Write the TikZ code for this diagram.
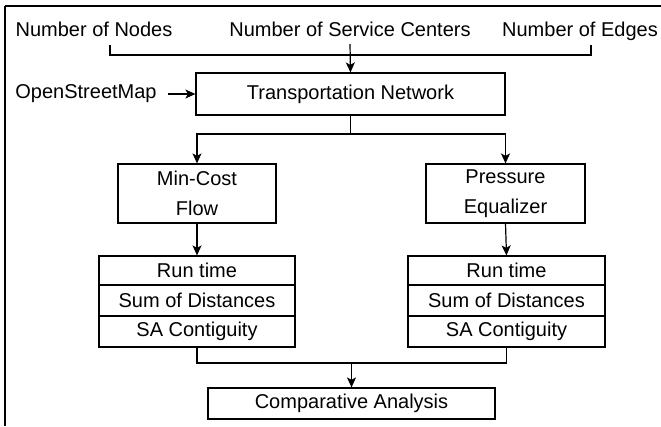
\documentclass[tikz,border=0pt]{standalone}
\usepackage{fontspec}
\setmainfont{Liberation Sans}
\usetikzlibrary{arrows.meta}
\begin{document}
\begin{tikzpicture}[x=1pt,y=-1pt,
  every node/.style={font=\fontsize{20}{30}\selectfont, inner sep=0pt},
  box/.style={draw, line width=1.2pt, minimum width=#1, align=center},
  label/.style={anchor=base},
  wire/.style={line width=1.2pt},
  arr/.style={line width=1.2pt, -{Stealth[length=10pt,width=9pt,inset=2.5pt]}},
  frame/.style={line width=1.8pt}]
\useasboundingbox (0,0) rectangle (661,426);

% outer frame (top and left edges)
\draw[frame] (5,6) -- (661,6);
\draw[frame] (5,6) -- (5,426);

% inputs
\node[label] (nodes) at (94,36) {Number of Nodes};
\node[label] (centers) at (350,36) {Number of Service Centers};
\node[label] (edges) at (580,36) {Number of Edges};
\coordinate (bl) at (110,45);
\coordinate (bm) at (350,44);
\coordinate (br) at (591,45);

% transportation network
\node[box=309pt, minimum height=42pt] (tn) at (350.5,94) {Transportation Network};
\node (osm) at (86,94) {OpenStreetMap};
\coordinate (osmend) at (168,94);

\draw[wire] (bl) -- (110,55) -- (591,55) -- (br);
\draw[arr] (bm) -- (tn.north);
\draw[arr] (osmend) -- (tn.west);

% algorithms
\node[box=158pt, minimum height=59pt] (mcf) at (197,193.5) {Min-Cost\\Flow};
\node[box=159pt, minimum height=59pt] (peq) at (505.5,193.5) {Pressure\\Equalizer};
\coordinate (split) at (350.5,134);
\draw[wire] (tn.south) -- (split);
\draw[arr] (split) -| (mcf.north);
\draw[arr] (split) -| (peq.north);

% metric stacks
\node[box=196pt, minimum height=29pt] (rtL) at (197,270.5) {Run time};
\node[box=196pt, minimum height=31pt] (sdL) at (197,300.5) {Sum of Distances};
\node[box=196pt, minimum height=31pt] (scL) at (197,331.5) {SA Contiguity};
\node[box=197pt, minimum height=29pt] (rtR) at (506.5,270.5) {Run time};
\node[box=197pt, minimum height=31pt] (sdR) at (506.5,300.5) {Sum of Distances};
\node[box=197pt, minimum height=31pt] (scR) at (506.5,331.5) {SA Contiguity};
\draw[arr] (mcf.south) -- (rtL.north);
\draw[arr] (peq.south) -- (rtR.north);

% comparison
\node[box=287pt, minimum height=31pt] (ca) at (351.5,403.5) {Comparative Analysis};
\coordinate (merge) at (351.5,363);
\draw[wire] (scL.south) |- (merge);
\draw[wire] (scR.south) |- (merge);
\draw[arr] (merge) -- (ca.north);
\end{tikzpicture}
\end{document}
